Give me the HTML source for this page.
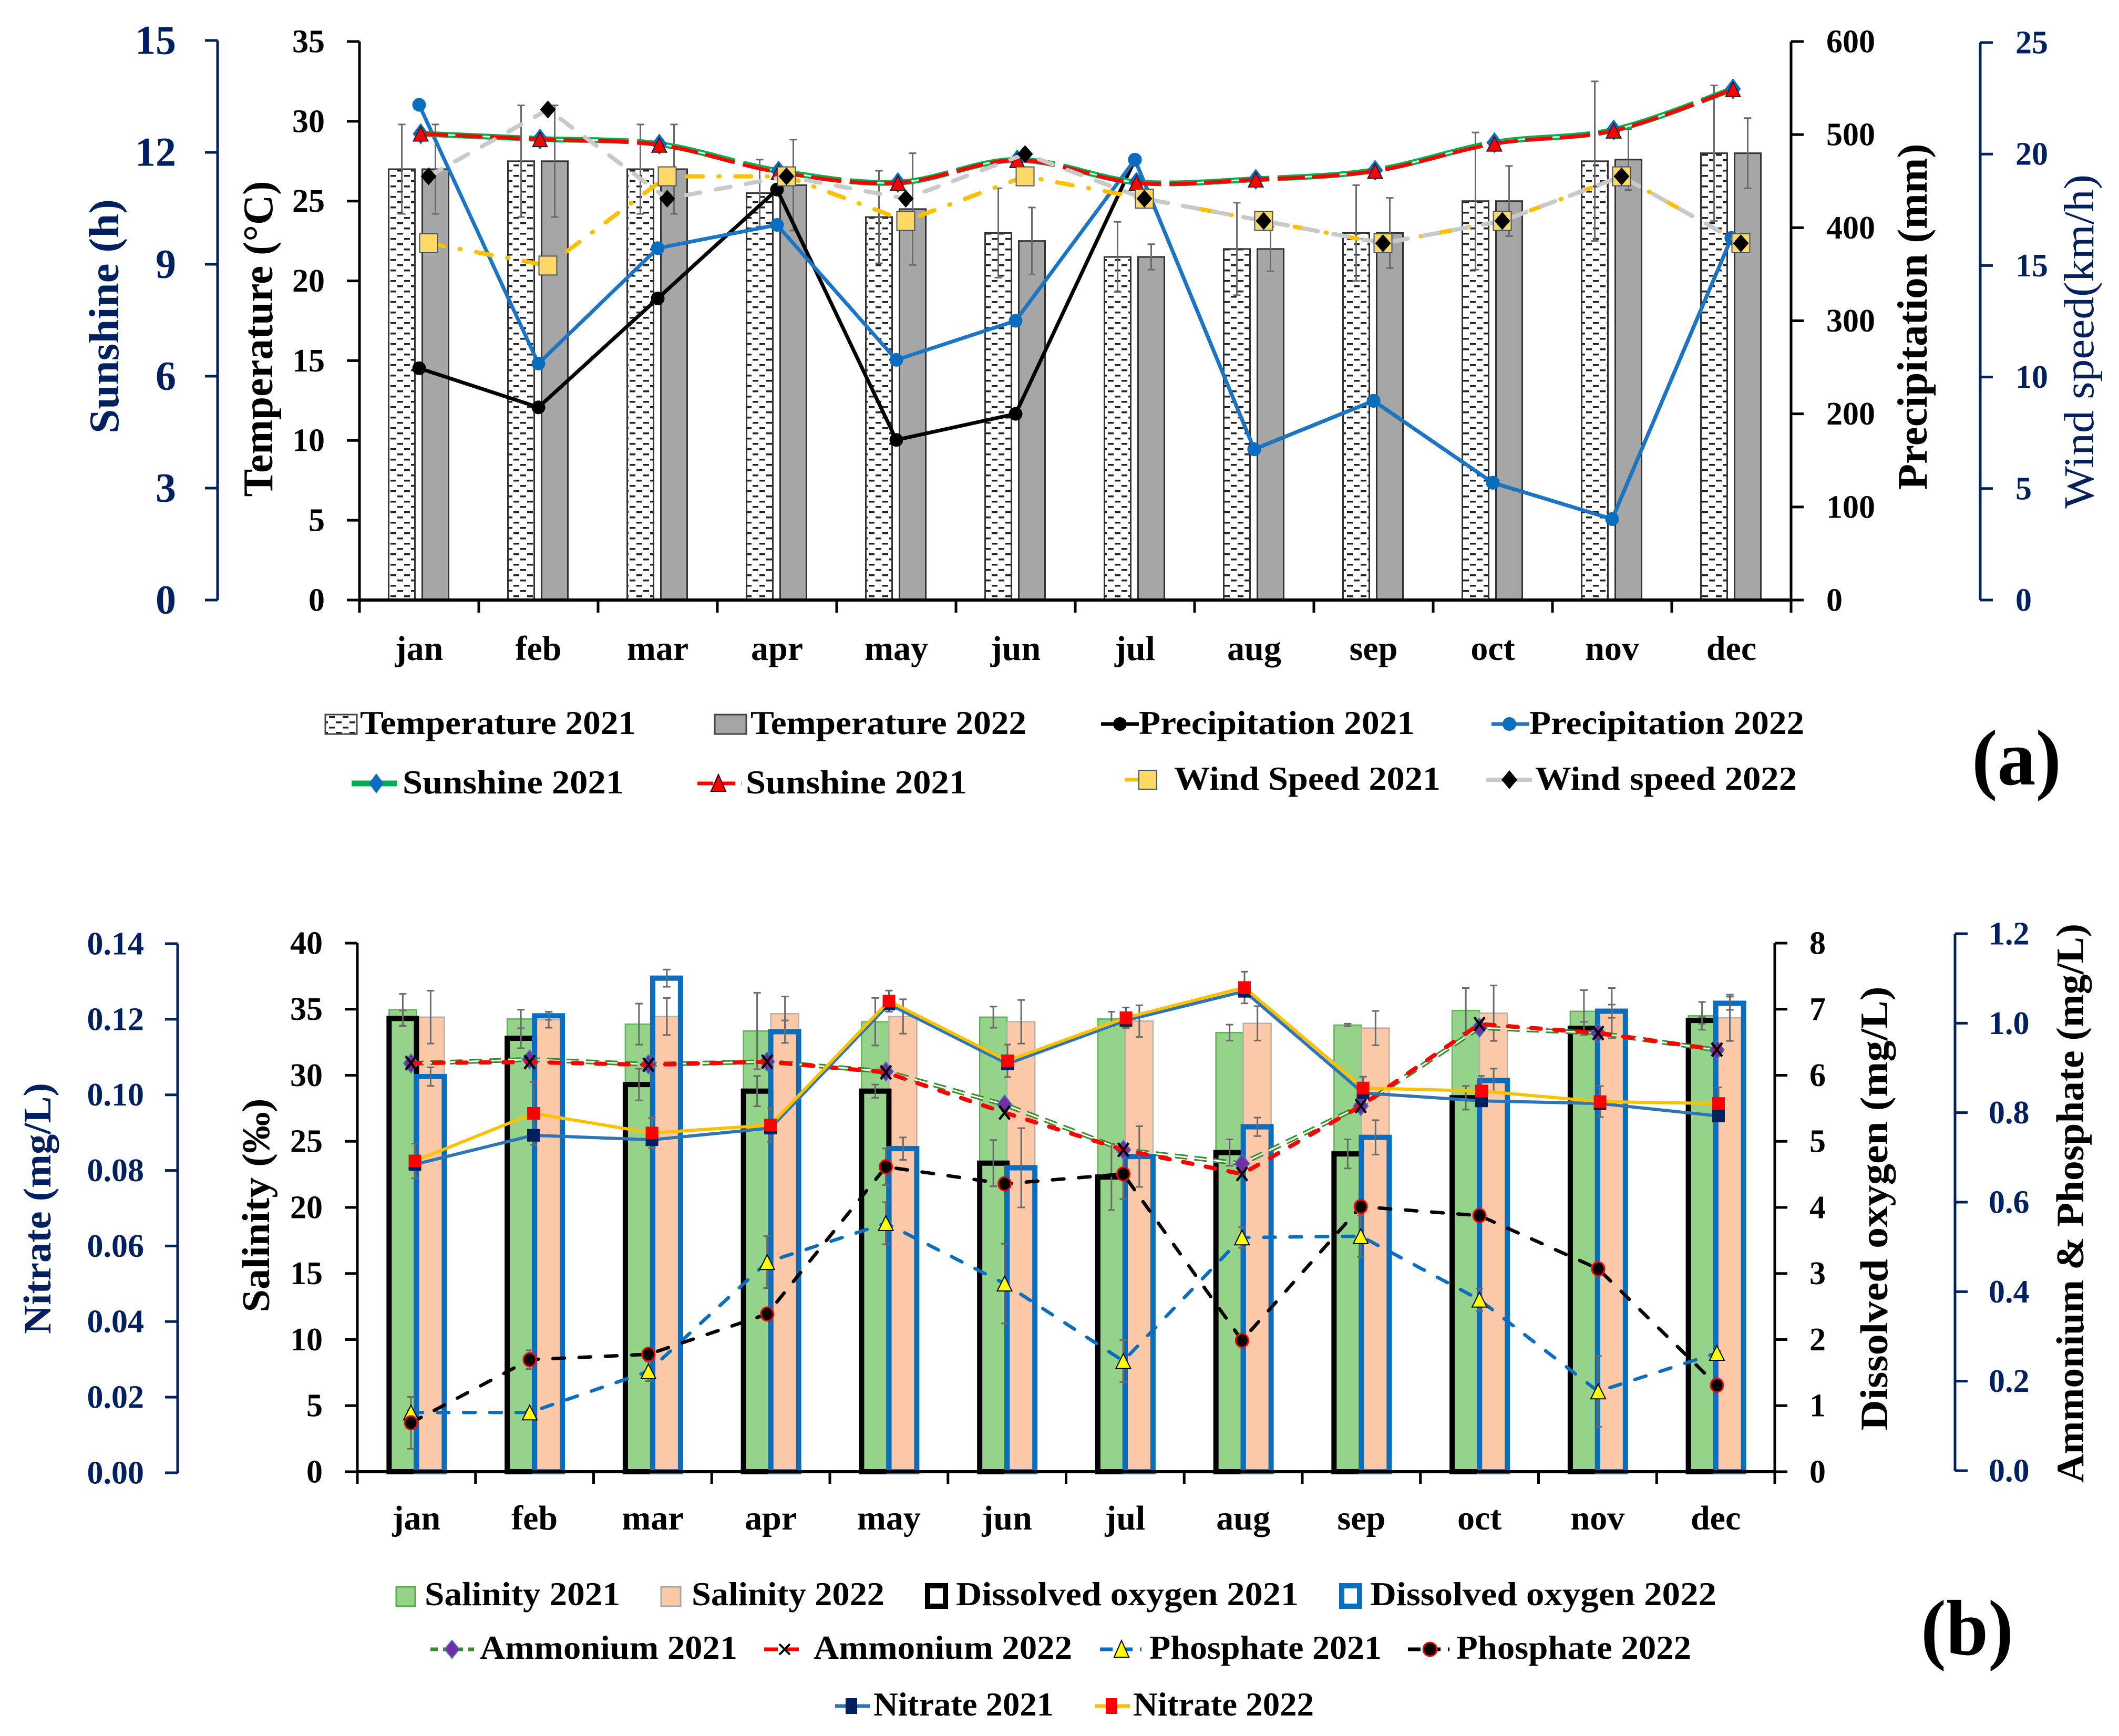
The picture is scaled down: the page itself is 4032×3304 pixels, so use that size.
<!DOCTYPE html>
<html lang="en">
<head>
<meta charset="utf-8">
<title>Monthly climate and water quality charts</title>
<style>
html,body{margin:0;padding:0;background:#fff;}
svg{display:block;}
text{font-family:"Liberation Serif",serif;font-weight:bold;fill:#000;}
.navy{fill:#002060;}
</style>
</head>
<body>
<svg id="figure" xmlns="http://www.w3.org/2000/svg" width="4032" height="3304" viewBox="0 0 4032 3304">
<defs>
<pattern id="dots" width="26" height="20" patternUnits="userSpaceOnUse">
<rect width="26" height="20" fill="#fff"/>
<rect x="2" y="3" width="11" height="3.5" fill="#222"/>
<rect x="15" y="13" width="11" height="3.5" fill="#222"/>
</pattern>
</defs>
<rect width="4032" height="3304" fill="#fff"/>

<g id="chartA"></g>
<g id="chartB"></g>

<!-- axis titles, panel a -->
<text class="navy" font-size="80" text-anchor="middle" transform="translate(225 602) rotate(-90)" textLength="446" lengthAdjust="spacingAndGlyphs">Sunshine (h)</text>
<text font-size="80" text-anchor="middle" transform="translate(518 645) rotate(-90)" textLength="601" lengthAdjust="spacingAndGlyphs">Temperature (°C)</text>
<text font-size="80" text-anchor="middle" transform="translate(3666 603) rotate(-90)" textLength="659" lengthAdjust="spacingAndGlyphs">Precipitation (mm)</text>
<text class="navy" style="font-weight:normal" font-size="80" text-anchor="middle" transform="translate(3983 650) rotate(-90)" textLength="636" lengthAdjust="spacingAndGlyphs">Wind speed(km/h)</text>

<!-- axis titles, panel b -->
<text class="navy" font-size="74" text-anchor="middle" transform="translate(96 2300) rotate(-90)" textLength="478" lengthAdjust="spacingAndGlyphs">Nitrate (mg/L)</text>
<text font-size="74" text-anchor="middle" transform="translate(512 2294) rotate(-90)" textLength="407" lengthAdjust="spacingAndGlyphs">Salinity (‰)</text>
<text font-size="74" text-anchor="middle" transform="translate(3591 2300) rotate(-90)" textLength="845" lengthAdjust="spacingAndGlyphs">Dissolved oxygen (mg/L)</text>
<text font-size="74" text-anchor="middle" transform="translate(3964 2290) rotate(-90)" textLength="1064" lengthAdjust="spacingAndGlyphs">Ammonium &amp; Phosphate (mg/L)</text>

<!-- legend, panel a -->
<g font-size="64">
<g>
<rect x="619" y="1360" width="60" height="37" fill="url(#dots)" stroke="#444" stroke-width="3"/>
<text x="685" y="1397" font-size="64" textLength="525" lengthAdjust="spacingAndGlyphs">Temperature 2021</text></g>
<g>
<rect x="1360" y="1360" width="60" height="37" fill="#A6A6A6" stroke="#444" stroke-width="3"/>
<text x="1428" y="1397" font-size="64" textLength="525" lengthAdjust="spacingAndGlyphs">Temperature 2022</text></g>
<g>
<line x1="2095" y1="1378" x2="2167" y2="1378" stroke="#000" stroke-width="7"/><circle cx="2131" cy="1378" r="13" fill="#000"/>
<text x="2167" y="1397" font-size="64" textLength="525" lengthAdjust="spacingAndGlyphs">Precipitation 2021</text></g>
<g>
<line x1="2838" y1="1378" x2="2910" y2="1378" stroke="#1B75C4" stroke-width="7"/><circle cx="2872" cy="1378" r="13" fill="#0B6DBE"/>
<text x="2910" y="1397" font-size="64" textLength="523" lengthAdjust="spacingAndGlyphs">Precipitation 2022</text></g>
<g>
<line x1="669" y1="1491" x2="755" y2="1491" stroke="#00B050" stroke-width="11"/><polygon points="716,1472 730,1491 716,1510 702,1491" fill="#0B6DBE"/>
<text x="766" y="1510" font-size="64" textLength="421" lengthAdjust="spacingAndGlyphs">Sunshine 2021</text></g>
<g>
<line x1="1327" y1="1491" x2="1412" y2="1491" stroke="#FF0000" stroke-width="7" stroke-dasharray="30 12"/><polygon points="1367,1474 1381,1506 1353,1506" fill="#FF0000" stroke="#000" stroke-width="2"/>
<text x="1419" y="1510" font-size="64" textLength="421" lengthAdjust="spacingAndGlyphs">Sunshine 2021</text></g>
<g>
<line x1="2140" y1="1484" x2="2167" y2="1484" stroke="#FFC000" stroke-width="7"/><rect x="2167" y="1466" width="34" height="36" fill="#FFD966" stroke="#44546A" stroke-width="2"/>
<text x="2234" y="1503" font-size="64" textLength="507" lengthAdjust="spacingAndGlyphs">Wind Speed 2021</text></g>
<g>
<line x1="2827" y1="1484" x2="2915" y2="1484" stroke="#C9C9C9" stroke-width="8"/><polygon points="2872,1466 2887,1484 2872,1502 2857,1484" fill="#000"/>
<text x="2921" y="1503" font-size="64" textLength="498" lengthAdjust="spacingAndGlyphs">Wind speed 2022</text></g>
</g>
<text x="3752" y="1493" font-size="150" textLength="170" lengthAdjust="spacingAndGlyphs">(a)</text>

<!-- legend, panel b -->
<g>
<g>
<rect x="754" y="3020" width="36" height="37" fill="#95D38B" stroke="#4FAF45" stroke-width="3"/>
<text x="808" y="3055" font-size="64" textLength="372" lengthAdjust="spacingAndGlyphs">Salinity 2021</text></g>
<g>
<rect x="1258" y="3020" width="37" height="37" fill="#FCC9A8" stroke="#A6A6A6" stroke-width="3"/>
<text x="1316" y="3055" font-size="64" textLength="367" lengthAdjust="spacingAndGlyphs">Salinity 2022</text></g>
<g>
<rect x="1765" y="3018" width="34" height="39" fill="#fff" stroke="#000" stroke-width="10"/>
<text x="1819" y="3055" font-size="64" textLength="652" lengthAdjust="spacingAndGlyphs">Dissolved oxygen 2021</text></g>
<g>
<rect x="2553" y="3018" width="34" height="39" fill="#fff" stroke="#0B6DBE" stroke-width="10"/>
<text x="2607" y="3055" font-size="64" textLength="659" lengthAdjust="spacingAndGlyphs">Dissolved oxygen 2022</text></g>
<g>
<line x1="819" y1="3139" x2="902" y2="3139" stroke="#3A8A2E" stroke-width="7" stroke-dasharray="14 10"/><polygon points="860,3122 874,3139 860,3156 846,3139" fill="#7030A0" stroke="#4472C4" stroke-width="2"/>
<text x="913" y="3157" font-size="64" textLength="490" lengthAdjust="spacingAndGlyphs">Ammonium 2021</text></g>
<g>
<line x1="1454" y1="3139" x2="1532" y2="3139" stroke="#FF0000" stroke-width="7" stroke-dasharray="26 14"/>
<path d="M1483 3129L1503 3149M1503 3129L1483 3149" stroke="#000" stroke-width="4"/>
<text x="1548" y="3157" font-size="64" textLength="492" lengthAdjust="spacingAndGlyphs">Ammonium 2022</text></g>
<g>
<line x1="2093" y1="3139" x2="2172" y2="3139" stroke="#0B6DBE" stroke-width="7" stroke-dasharray="24 14"/><polygon points="2134,3122 2148,3154 2120,3154" fill="#FFFF00" stroke="#000" stroke-width="2"/>
<text x="2187" y="3157" font-size="64" textLength="442" lengthAdjust="spacingAndGlyphs">Phosphate 2021</text></g>
<g>
<line x1="2679" y1="3139" x2="2758" y2="3139" stroke="#000" stroke-width="7" stroke-dasharray="24 14"/><circle cx="2721" cy="3139" r="13" fill="#000" stroke="#FF0000" stroke-width="3"/>
<text x="2771" y="3157" font-size="64" textLength="447" lengthAdjust="spacingAndGlyphs">Phosphate 2022</text></g>
<g>
<line x1="1589" y1="3247" x2="1655" y2="3247" stroke="#2E75B6" stroke-width="7"/><rect x="1609" y="3232" width="22" height="30" fill="#002060"/>
<text x="1662" y="3265" font-size="64" textLength="343" lengthAdjust="spacingAndGlyphs">Nitrate 2021</text></g>
<g>
<line x1="2084" y1="3247" x2="2150" y2="3247" stroke="#FFC000" stroke-width="7"/><rect x="2104" y="3232" width="22" height="30" fill="#FF0000"/>
<text x="2156" y="3265" font-size="64" textLength="344" lengthAdjust="spacingAndGlyphs">Nitrate 2022</text></g>
</g>
<text x="3655" y="3149" font-size="150" textLength="176" lengthAdjust="spacingAndGlyphs">(b)</text>

<script>
// ---- shared categories ----
const months = ['jan','feb','mar','apr','may','jun','jul','aug','sep','oct','nov','dec'];

// ---- panel (a) tick labels ----
const sunshineTicks = [0,3,6,9,12,15];
const temperatureTicks = [0,5,10,15,20,25,30,35];
const precipitationTicks = [0,100,200,300,400,500,600];
const windTicks = [0,5,10,15,20,25];

// ---- panel (a) values ----
const temperature2021 = [27,27.5,27,25.5,24,23,21.5,22,23,25,27.5,28];
const temperature2022 = [27,27.5,27,26,24.5,22.5,21.5,22,23,25,27.6,28];
const temperature2021Err = [2.8,3.5,2.8,2.1,2.9,2.8,2.2,2.9,3,4.3,5,4.25];
const temperature2022Err = [2.8,3.5,2.8,2.85,3.5,2.1,0.8,1.4,2.2,2.2,1.9,2.2];
const precipitation2021 = [249,207,324,441,172,200,473,162,214,126,87,389];
const precipitation2022 = [532,254,378,403,258,300,473,162,214,126,87,389];
const sunshine2021 = [12.5,12.36,12.22,11.5,11.19,11.8,11.2,11.28,11.52,12.26,12.6,13.7];
const sunshine2022 = [12.5,12.35,12.2,11.47,11.18,11.79,11.18,11.27,11.5,12.23,12.58,13.69];
const wind2021 = [16,15,19,19,17,19,18,17,16,17,19,16];
const wind2022 = [19,22,18,19,18,20,18,17,16,17,19,16];

// ---- panel (b) tick labels ----
const nitrateTicks = ['0.00','0.02','0.04','0.06','0.08','0.10','0.12','0.14'];
const salinityTicks = [0,5,10,15,20,25,30,35,40];
const oxygenTicks = [0,1,2,3,4,5,6,7,8];
const ammoniumTicks = ['0.0','0.2','0.4','0.6','0.8','1.0','1.2'];

// ---- panel (b) values ----
const salinity2021 = [34.96,34.26,33.87,33.35,34.05,34.4,34.26,33.23,33.8,34.9,34.84,34.5];
const salinity2022 = [34.4,34.2,34.45,34.66,34.45,34.05,34.1,33.93,33.57,34.7,34.7,34.35];
const salinity2021Err = [1.2,0.7,1.55,2.9,1.8,0.8,0.55,0.6,0.1,1.7,1.6,1.05];
const salinity2022Err = [2,0.6,1.4,1.3,1.3,1.65,1.2,1.3,1.3,2.1,1.9,1.75];
const oxygen2021 = [6.86,6.56,5.86,5.76,5.76,4.67,4.46,4.83,4.81,5.66,6.71,6.83];
const oxygen2022 = [5.98,6.9,7.47,6.66,4.89,4.6,4.77,5.22,5.06,5.92,6.97,7.09];
const oxygen2021Err = [0.12,0.15,0.24,0.23,0.1,0.35,0.5,0.2,0.22,0.18,0.1,0.05];
const oxygen2022Err = [0.14,0.06,0.13,0.17,0.17,0.6,0.46,0.14,0.26,0.18,0.1,0.1];
const ammonium2021 = [0.91,0.919,0.908,0.914,0.892,0.818,0.717,0.686,0.815,0.99,0.978,0.94];
const ammonium2022 = [0.911,0.913,0.907,0.914,0.89,0.8,0.717,0.663,0.815,0.998,0.978,0.941];
const phosphate2021 = [0.13,0.13,0.222,0.466,0.553,0.418,0.245,0.521,0.524,0.382,0.177,0.263];
const phosphate2022 = [0.107,0.248,0.26,0.35,0.679,0.641,0.663,0.291,0.59,0.57,0.451,0.191];
const phosphate2021Err = [0.005,0.005,0.022,0.058,0.047,0.089,0.047,0.023,0.046,0.025,0.079,0.005];
const phosphate2022Err = [0.058,0.021,0.005,0.005,0.041,0.005,0.056,0.005,0.005,0.005,0.005,0.005];
const nitrate2021 = [0.0816,0.0893,0.0881,0.0912,0.124,0.1082,0.1197,0.1274,0.1005,0.0984,0.0977,0.0944];
const nitrate2022 = [0.0825,0.0951,0.0899,0.092,0.1248,0.109,0.1204,0.1284,0.1018,0.101,0.0982,0.0977];
const nitrate2022Err = [0.0046,0.0083,0.004,0.0044,0.0028,0.0043,0.0027,0.0042,0.003,0.004,0.0041,0.0043];

// ---- drawing helpers ----
const SVGNS = 'http://www.w3.org/2000/svg';
function mk(parent, tag, attrs, name) {
  const el = document.createElementNS(SVGNS, tag);
  for (const k in attrs) el.setAttribute(k, attrs[k]);
  
  
  parent.appendChild(el);
  return el;
}
function smoothPath(pts) {
  let d = 'M' + pts[0][0] + ' ' + pts[0][1];
  for (let i = 0; i < pts.length - 1; i++) {
    const p0 = pts[Math.max(i - 1, 0)], p1 = pts[i], p2 = pts[i + 1], p3 = pts[Math.min(i + 2, pts.length - 1)];
    const c1x = p1[0] + (p2[0] - p0[0]) / 6, c1y = p1[1] + (p2[1] - p0[1]) / 6;
    const c2x = p2[0] - (p3[0] - p1[0]) / 6, c2y = p2[1] - (p3[1] - p1[1]) / 6;
    d += 'C' + c1x + ' ' + c1y + ' ' + c2x + ' ' + c2y + ' ' + p2[0] + ' ' + p2[1];
  }
  return d;
}
function linePath(pts) {
  return 'M' + pts.map(p => p[0] + ' ' + p[1]).join('L');
}
function seriesLine(g, xf, yf, vals, smooth, style, name) {
  const pts = vals.map((v, i) => [xf(i), yf(v)]);
  const attrs = Object.assign({ d: smooth ? smoothPath(pts) : linePath(pts), fill: 'none', 'stroke-linejoin': 'round' }, style);
  mk(g, 'path', attrs, name);
}
function marker(g, kind, x, y, fill, stroke, sw, w, h, name) {
  let el;
  if (kind === 'circle') {
    el = mk(g, 'ellipse', { cx: x, cy: y, rx: w, ry: h, fill: fill, stroke: stroke, 'stroke-width': sw }, name);
  } else if (kind === 'square') {
    el = mk(g, 'rect', { x: x - w, y: y - h, width: 2 * w, height: 2 * h, fill: fill, stroke: stroke, 'stroke-width': sw }, name);
  } else if (kind === 'diamond') {
    el = mk(g, 'polygon', { points: [x, y - h, x + w, y, x, y + h, x - w, y].join(' '), fill: fill, stroke: stroke, 'stroke-width': sw }, name);
  } else if (kind === 'triangle') {
    el = mk(g, 'polygon', { points: [x, y - h, x + w, y + h, x - w, y + h].join(' '), fill: fill, stroke: stroke, 'stroke-width': sw }, name);
  } else {
    el = mk(g, 'path', { d: 'M' + (x - w) + ' ' + (y - h) + 'L' + (x + w) + ' ' + (y + h) + 'M' + (x + w) + ' ' + (y - h) + 'L' + (x - w) + ' ' + (y + h), stroke: stroke, 'stroke-width': sw, fill: 'none' }, name);
  }
  return el;
}
function markers(g, kind, xf, yf, vals, fill, stroke, sw, w, h, name) {
  vals.forEach((v, i) => marker(g, kind, xf(i), yf(v), fill, stroke, sw, w, h, name + '-' + months[i]));
}
function errBars(g, xf, yf, vals, errs, name) {
  vals.forEach((v, i) => {
    const x = xf(i), y1 = yf(v + errs[i]), y2 = yf(v - errs[i]);
    const d = 'M' + x + ' ' + y1 + 'V' + y2 + 'M' + (x - 7) + ' ' + y1 + 'H' + (x + 7) + 'M' + (x - 7) + ' ' + y2 + 'H' + (x + 7);
    mk(g, 'path', { d: d, stroke: '#6A6A6A', 'stroke-width': 3, fill: 'none' }, name + '-' + months[i]);
  });
}
function bars(g, xf, width, yf, base, vals, style, name) {
  vals.forEach((v, i) => {
    const attrs = Object.assign({ x: xf(i), y: yf(v), width: width, height: base - yf(v) }, style);
    mk(g, 'rect', attrs, name + '-' + months[i]);
  });
}
function vAxis(g, x, top, bottom, side, ticks, yf, labelX, anchor, fs, color, name) {
  mk(g, 'line', { x1: x, y1: top, x2: x, y2: bottom, stroke: color, 'stroke-width': 5 }, name + '-line');
  ticks.forEach(t => {
    const v = parseFloat(t), y = yf(v);
    mk(g, 'line', { x1: x, y1: y, x2: x + side * 24, y2: y, stroke: color, 'stroke-width': 5 }, name + '-tick');
    const txt = mk(g, 'text', { x: labelX, y: y + fs * 0.33, 'font-size': fs, 'text-anchor': anchor, style: 'fill:' + color }, name + '-label');
    txt.textContent = t;
  });
}
function xAxis(g, left, right, y, tickBottom, baseline, xCenter, step, name) {
  mk(g, 'line', { x1: left, y1: y, x2: right, y2: y, stroke: '#000', 'stroke-width': 6 }, name + '-line');
  for (let i = 0; i <= months.length; i++) {
    const x = left + step * i;
    mk(g, 'line', { x1: x, y1: y, x2: x, y2: tickBottom, stroke: '#000', 'stroke-width': 5 }, name + '-tick');
  }
  months.forEach((m, i) => {
    const t = mk(g, 'text', { x: xCenter(i), y: baseline, 'font-size': 66, 'text-anchor': 'middle' }, name + '-label-' + m);
    t.textContent = m;
  });
}

// ---- panel (a) scales ----
const aBase = 1142;
const aStep = (3408 - 684) / 12;
const xA = i => 684 + aStep * (i + 0.5);
const yTemp = v => aBase - v * (1063 / 35);
const yPrec = v => aBase - v * (1063 / 600);
const ySun = v => aBase - v * (1065 / 15);
const yWind = v => aBase - v * (1061 / 25);

const A = document.getElementById('chartA');
bars(A, i => xA(i) - 58, 50, yTemp, aBase, temperature2021, { fill: 'url(#dots)', stroke: '#333', 'stroke-width': 3 }, 'bar-temperature-2021');
bars(A, i => xA(i) + 6, 50, yTemp, aBase, temperature2022, { fill: '#A6A6A6', stroke: '#333', 'stroke-width': 3 }, 'bar-temperature-2022');
errBars(A, i => xA(i) - 33, yTemp, temperature2021, temperature2021Err, 'error-temperature-2021');
errBars(A, i => xA(i) + 31, yTemp, temperature2022, temperature2022Err, 'error-temperature-2022');

vAxis(A, 414, 77, aBase, -1, sunshineTicks, ySun, 335, 'end', 78, '#002060', 'sunshine-axis');
vAxis(A, 684, 79, aBase, -1, temperatureTicks, yTemp, 618, 'end', 62, '#000000', 'temperature-axis');
vAxis(A, 3408, 79, aBase, 1, precipitationTicks, yPrec, 3475, 'start', 62, '#000000', 'precipitation-axis');
vAxis(A, 3768, 81, aBase, 1, windTicks, yWind, 3835, 'start', 62, '#002060', 'wind-axis');
xAxis(A, 684, 3408, aBase, 1166, 1256, xA, aStep, 'x-axis-climate');

seriesLine(A, xA, yPrec, precipitation2021, false, { stroke: '#000', 'stroke-width': 7 }, 'line-precipitation-2021');
markers(A, 'circle', xA, yPrec, precipitation2021, '#000', 'none', 0, 13, 13, 'point-precipitation-2021');
seriesLine(A, xA, yPrec, precipitation2022, false, { stroke: '#1B75C4', 'stroke-width': 7 }, 'line-precipitation-2022');
markers(A, 'circle', xA, yPrec, precipitation2022, '#0B6DBE', 'none', 0, 13, 13, 'point-precipitation-2022');

const xSun = i => xA(i) + 3;
seriesLine(A, xSun, ySun, sunshine2021, true, { stroke: '#00B050', 'stroke-width': 11, 'stroke-dasharray': '190 16' }, 'line-sunshine-2021-green');
seriesLine(A, xSun, ySun, sunshine2021, true, { stroke: '#E8F8EE', 'stroke-width': 3, 'stroke-dasharray': '190 16' }, 'line-sunshine-2021-green-core');
markers(A, 'diamond', xSun, ySun, sunshine2021, '#0B6DBE', 'none', 0, 15, 20, 'point-sunshine-2021-green');
seriesLine(A, xSun, ySun, sunshine2022, true, { stroke: '#FF0000', 'stroke-width': 7, 'stroke-dasharray': '52 14 52 14 58 16' }, 'line-sunshine-2021-red');
markers(A, 'triangle', xSun, ySun, sunshine2022, '#FF0000', '#222', 2, 14, 14, 'point-sunshine-2021-red');

const xWind = i => xA(i) + 18;
seriesLine(A, xWind, yWind, wind2021, false, { stroke: '#FFC000', 'stroke-width': 8, 'stroke-linecap': 'round', 'stroke-dasharray': '30 30 2 30' }, 'line-wind-speed-2021');
seriesLine(A, xWind, yWind, wind2022, false, { stroke: '#C9C9C9', 'stroke-width': 8, 'stroke-linecap': 'round', 'stroke-dasharray': '28 30' }, 'line-wind-speed-2022');
markers(A, 'square', xWind, yWind, wind2021, '#FFD966', '#44546A', 2, 17, 18, 'point-wind-speed-2021');
markers(A, 'diamond', xWind, yWind, wind2022, '#000', 'none', 0, 15, 17, 'point-wind-speed-2022');

// ---- panel (b) scales ----
const bBase = 2801;
const bStep = (3377 - 680) / 12;
const xB = i => 680 + bStep * (i + 0.5);
const ySal = v => bBase - v * (1006 / 40);
const yOxy = v => bBase - v * (1006 / 8);
const yAmm = v => 2799 - v * (1022 / 1.2);
const yNit = v => 2803 - v * (1007 / 0.14);
const xAmm = i => 782 + i * 225.9;
const xNit = i => 789.5 + i * 225.5;

const B = document.getElementById('chartB');
bars(B, i => xB(i) - 52, 52, ySal, bBase, salinity2021, { fill: '#95D38B', stroke: '#5FB255', 'stroke-width': 2.5 }, 'bar-salinity-2021');
bars(B, i => xB(i), 53, ySal, bBase, salinity2022, { fill: '#FCC9A8', stroke: '#B8B0A8', 'stroke-width': 2.5 }, 'bar-salinity-2022');
errBars(B, i => xB(i) - 26, ySal, salinity2021, salinity2021Err, 'error-salinity-2021');
errBars(B, i => xB(i) + 27, ySal, salinity2022, salinity2022Err, 'error-salinity-2022');
bars(B, i => xB(i) - 52, 52, yOxy, bBase, oxygen2021, { fill: 'none', stroke: '#000', 'stroke-width': 10 }, 'bar-dissolved-oxygen-2021');
bars(B, i => xB(i), 53, yOxy, bBase, oxygen2022, { fill: 'none', stroke: '#0B6DBE', 'stroke-width': 10 }, 'bar-dissolved-oxygen-2022');
errBars(B, i => xB(i) - 26, yOxy, oxygen2021, oxygen2021Err, 'error-dissolved-oxygen-2021');
errBars(B, i => xB(i) + 27, yOxy, oxygen2022, oxygen2022Err, 'error-dissolved-oxygen-2022');

vAxis(B, 338, 1796, 2803, -1, nitrateTicks, yNit, 274, 'end', 62, '#002060', 'nitrate-axis');
vAxis(B, 680, 1795, bBase, -1, salinityTicks, ySal, 614, 'end', 62, '#000000', 'salinity-axis');
vAxis(B, 3377, 1795, bBase, 1, oxygenTicks, yOxy, 3443, 'start', 62, '#000000', 'dissolved-oxygen-axis');
vAxis(B, 3720, 1777, 2799, 1, ammoniumTicks, yAmm, 3784, 'start', 62, '#002060', 'ammonium-phosphate-axis');
xAxis(B, 680, 3377, bBase, 2824, 2911, xB, bStep, 'x-axis-water-quality');

errBars(B, xAmm, yAmm, phosphate2021, phosphate2021Err, 'error-phosphate-2021');
errBars(B, xAmm, yAmm, phosphate2022, phosphate2022Err, 'error-phosphate-2022');
errBars(B, xNit, yNit, nitrate2022, nitrate2022Err, 'error-nitrate-2022');

seriesLine(B, xAmm, yAmm, ammonium2021, false, { stroke: '#3A8A2E', 'stroke-width': 9, 'stroke-dasharray': '24 13' }, 'line-ammonium-2021');
seriesLine(B, xAmm, yAmm, ammonium2021, false, { stroke: '#fff', 'stroke-width': 3, 'stroke-dasharray': '24 13' }, 'line-ammonium-2021-core');
markers(B, 'diamond', xAmm, yAmm, ammonium2021, '#7030A0', '#4472C4', 2, 14, 18, 'point-ammonium-2021');
seriesLine(B, xAmm, yAmm, ammonium2022, false, { stroke: '#FF0000', 'stroke-width': 8, 'stroke-linecap': 'round', 'stroke-dasharray': '18 26' }, 'line-ammonium-2022');
markers(B, 'cross', xAmm, yAmm, ammonium2022, 'none', '#000', 4.5, 10, 13, 'point-ammonium-2022');
seriesLine(B, xAmm, yAmm, phosphate2021, false, { stroke: '#0B6DBE', 'stroke-width': 6.5, 'stroke-linecap': 'round', 'stroke-dasharray': '22 28' }, 'line-phosphate-2021');
seriesLine(B, xAmm, yAmm, phosphate2022, false, { stroke: '#000', 'stroke-width': 6.5, 'stroke-linecap': 'round', 'stroke-dasharray': '22 28' }, 'line-phosphate-2022');
markers(B, 'triangle', xAmm, yAmm, phosphate2021, '#FFFF00', '#000', 2, 14, 14, 'point-phosphate-2021');
markers(B, 'circle', xAmm, yAmm, phosphate2022, '#000', '#FF0000', 3, 12, 13, 'point-phosphate-2022');
seriesLine(B, xNit, yNit, nitrate2021, false, { stroke: '#2E75B6', 'stroke-width': 6 }, 'line-nitrate-2021');
markers(B, 'square', xNit, yNit, nitrate2021, '#002060', 'none', 0, 12, 12, 'point-nitrate-2021');
seriesLine(B, xNit, yNit, nitrate2022, false, { stroke: '#FFC000', 'stroke-width': 6 }, 'line-nitrate-2022');
markers(B, 'square', xNit, yNit, nitrate2022, '#FF0000', 'none', 0, 12, 12, 'point-nitrate-2022');
</script>
</svg>
</body>
</html>
